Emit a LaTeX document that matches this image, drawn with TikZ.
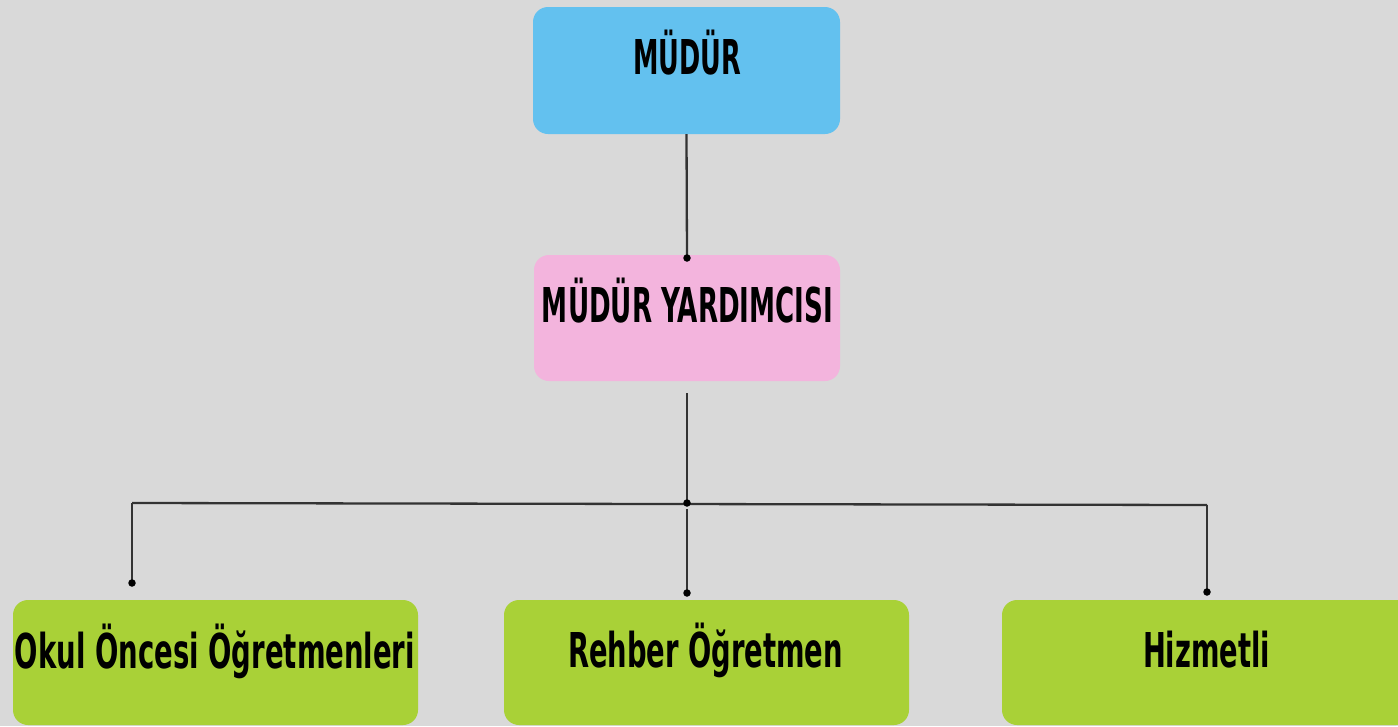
\documentclass[tikz,border=0pt]{standalone}
\usepackage{fontspec}
\setmainfont{DejaVu Sans}
\usepackage{graphicx}
\definecolor{bg}{HTML}{D9D9D9}
\definecolor{bluebox}{HTML}{63C1EF}
\definecolor{pinkbox}{HTML}{F3B4DD}
\definecolor{greenbox}{HTML}{A9D137}
\definecolor{linec}{HTML}{333333}
\newcommand{\fitw}[2]{\resizebox{#1}{\height}{\fontsize{48}{50}\selectfont\bfseries #2}}
\tikzset{
  lbl/.style={anchor=base, inner sep=0pt, text=black},
  conn/.style={draw=linec, line width=2.3pt},
  dotc/.style={fill=black, circle, inner sep=0pt, minimum size=7.5pt},
}
\begin{document}
\begin{tikzpicture}[x=1pt, y=-1pt]
\useasboundingbox (0,0) rectangle (1398,726);
\clip (0,0) rectangle (1398,726);
\fill[bg] (0,0) rectangle (1398,726);

% boxes
\fill[bluebox, rounded corners=15pt] (533,7) rectangle (840,134);
\node[inner sep=0pt, minimum width=307pt, minimum height=127pt] (mudur) at (686.5,70.5) {};
\fill[pinkbox, rounded corners=15pt] (534,255) rectangle (840,381);
\node[inner sep=0pt, minimum width=306pt, minimum height=126pt] (yard) at (687,318) {};
\fill[greenbox, rounded corners=15pt] (13,600) rectangle (418,725);
\node[inner sep=0pt, minimum width=405pt, minimum height=125pt] (okul) at (215.5,662.5) {};
\fill[greenbox, rounded corners=15pt] (504,600) rectangle (909,725);
\node[inner sep=0pt, minimum width=405pt, minimum height=125pt] (rehber) at (706.5,662.5) {};
\fill[greenbox, rounded corners=15pt] (1002,600) rectangle (1411,725);
\node[inner sep=0pt, minimum width=409pt, minimum height=125pt] (hizmet) at (1206.5,662.5) {};

% labels
\node[lbl] (tmudur) at (687,74) {\fitw{108pt}{MÜDÜR}};
\node[lbl] (tyard) at (687.5,322) {\fitw{291pt}{MÜDÜR YARDIMCISI}};
\node[lbl] (tokul) at (215,668) {\fitw{400pt}{Okul Öncesi Öğretmenleri}};
\node[lbl] (trehber) at (705.5,667) {\fitw{275pt}{Rehber Öğretmen}};
\node[lbl] (thizmet) at (1206.5,667) {\fitw{127pt}{Hizmetli}};

% connector points
\coordinate (d1) at (687,258);
\coordinate (s2) at (687,393);
\coordinate (j) at (687,503);
\coordinate (hl) at (132,503);
\coordinate (hr) at (1207,505);
\coordinate (dl) at (132,583);
\coordinate (m2) at (687,509);
\coordinate (dm) at (687,593);
\coordinate (dr) at (1207,592);

\draw[conn] (mudur.south) -- (d1);
\draw[conn] (s2) -- (j);
\draw[conn] (hl) -- (hr);
\draw[conn] (hl) -- (dl);
\draw[conn] (m2) -- (dm);
\draw[conn] (hr) -- (dr);

\node[dotc] at (d1) {};
\node[dotc] at (j) {};
\node[dotc] at (dl) {};
\node[dotc] at (dm) {};
\node[dotc] at (dr) {};
\end{tikzpicture}
\end{document}
